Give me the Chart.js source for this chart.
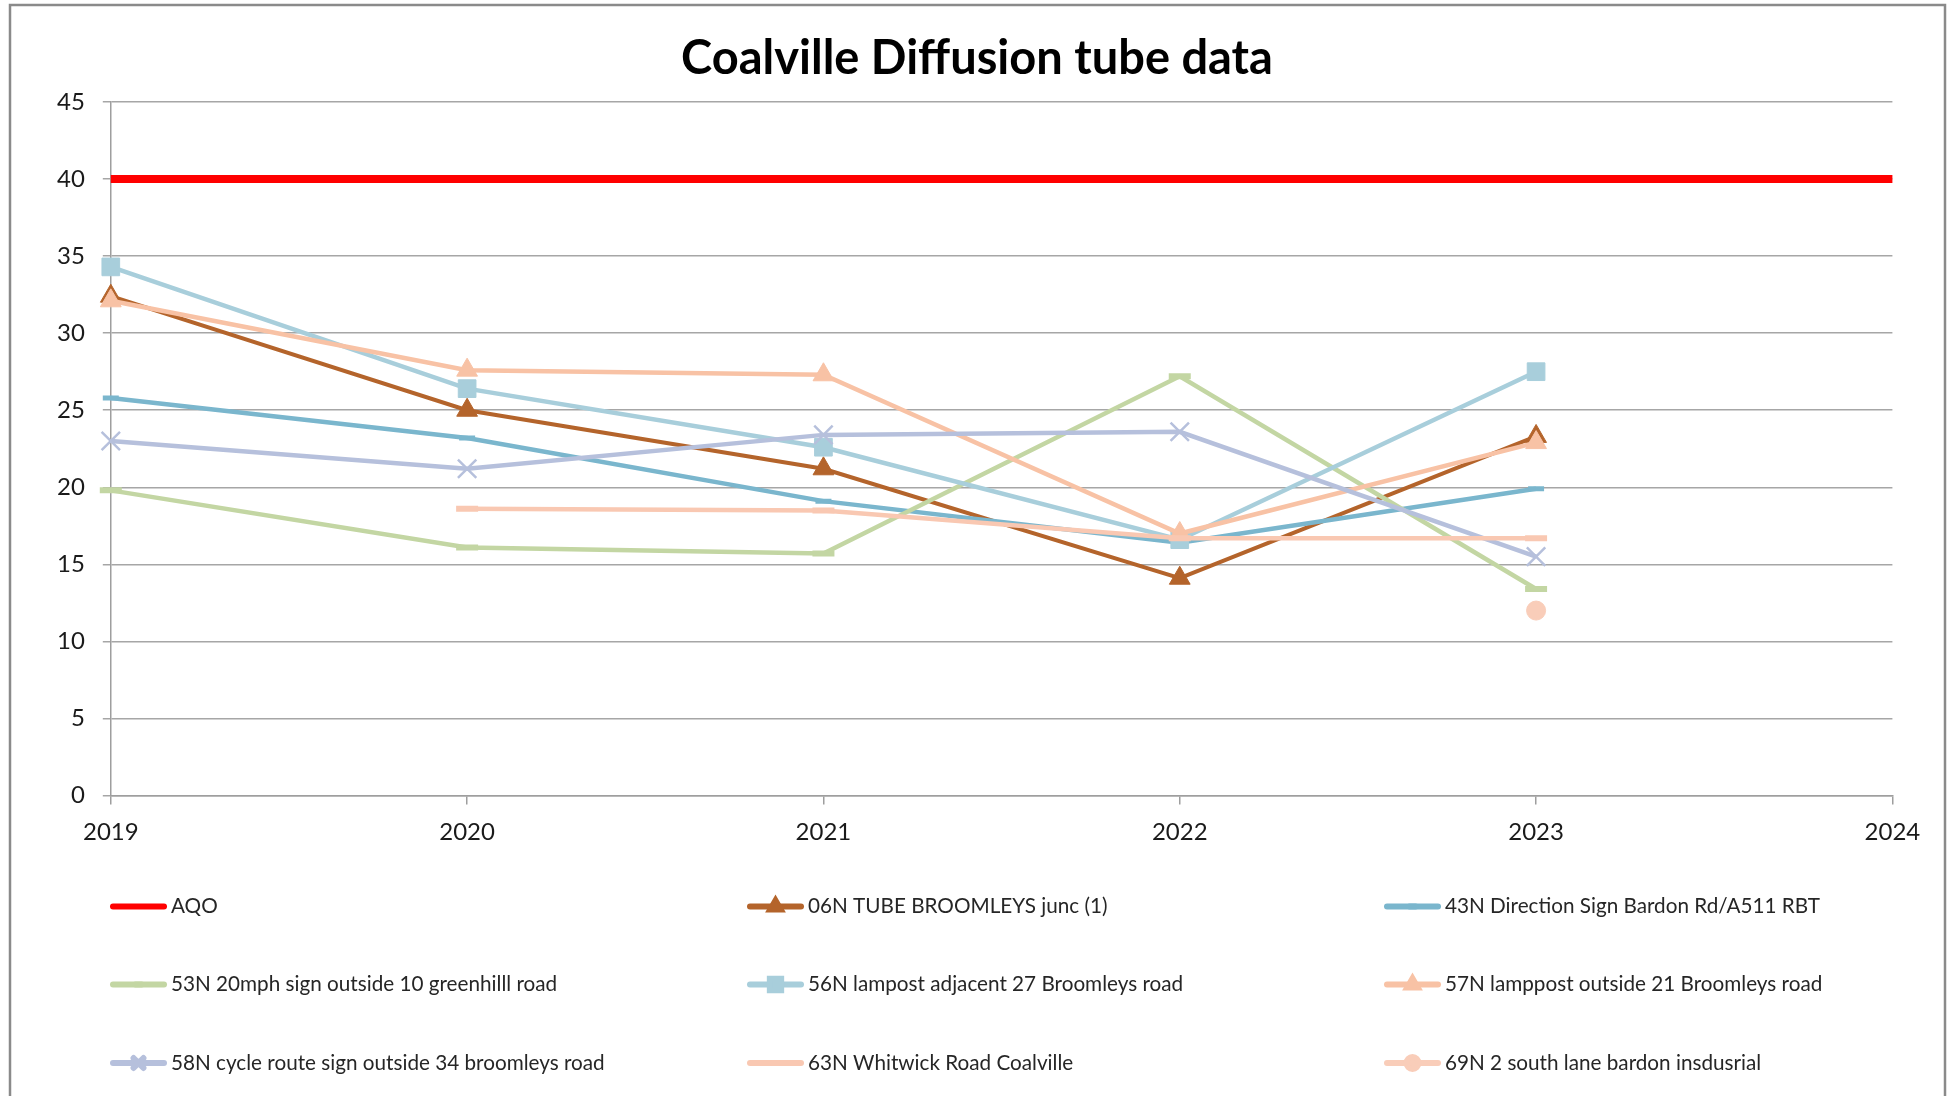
<!DOCTYPE html>
<html>
<head>
<meta charset="utf-8">
<script src="https://cdn.jsdelivr.net/npm/chart.js@4.4.1/dist/chart.umd.min.js"></script>
<style>
  html, body { margin: 0; padding: 0; background: #ffffff; }
  #wrap { position: relative; width: 1952px; height: 1096px; overflow: hidden; }
</style>
</head>
<body>
<div id="wrap"><canvas id="c"></canvas></div>
<script>
// ---- data ----
const chartTitle = 'Coalville Diffusion tube data';
const years = ['2019', '2020', '2021', '2022', '2023', '2024'];
const seriesNames = [
  'AQO',
  '06N TUBE BROOMLEYS junc (1)',
  '43N Direction Sign Bardon Rd/A511 RBT',
  '53N 20mph sign outside 10 greenhilll road',
  '56N lampost adjacent 27 Broomleys road',
  '57N lamppost outside 21 Broomleys road',
  '58N cycle route sign outside 34 broomleys road',
  '63N Whitwick Road Coalville',
  '69N 2 south lane bardon insdusrial'
];
const aqo      = [40, 40, 40, 40, 40, 40];
const s06N     = [32.4, 25.0, 21.2, 14.1, 23.3, null];
const s43N     = [25.8, 23.2, 19.1, 16.4, 19.9, null];
const s53N     = [19.8, 16.1, 15.7, 27.2, 13.4, null];
const s56N     = [34.3, 26.4, 22.6, 16.6, 27.5, null];
const s57N     = [32.1, 27.6, 27.3, 17.0, 22.9, null];
const s58N     = [23.0, 21.2, 23.4, 23.6, 15.5, null];
const s63N     = [null, 18.6, 18.5, 16.7, 16.7, null];
const s69N     = [null, null, null, null, 12.0, null];
const yTicksMin = 0, yTicksMax = 45, yTickStep = 5;

// ---- styles ----
const styles = [
  { color: '#FF0000', width: 8,   point: false,      radius: 0,    pbw: 0 },
  { color: '#B4642B', width: 4,   point: 'triangle', radius: 12,   pbw: 1 },
  { color: '#7AB6CD', width: 4.5, point: 'line',     radius: 8,    pbw: 5 },
  { color: '#C3D6A3', width: 4.5, point: 'line',     radius: 11,   pbw: 6 },
  { color: '#A8CEDB', width: 4.5, point: 'rect',     radius: 12.5, pbw: 1 },
  { color: '#F8C2A5', width: 4.5, point: 'triangle', radius: 12,   pbw: 1 },
  { color: '#B6C0DC', width: 4.5, point: 'crossRot', radius: 13,   pbw: 2.5 },
  { color: '#F9C8B2', width: 4.5, point: 'line',     radius: 11,   pbw: 6 },
  { color: '#F9CDB9', width: 4.5, point: 'circle',   radius: 9.5,  pbw: 1 }
];
const allSeries = [aqo, s06N, s43N, s53N, s56N, s57N, s58N, s63N, s69N];

const datasets = allSeries.map((d, i) => {
  const s = styles[i];
  return {
    label: seriesNames[i],
    data: d,
    borderColor: s.color,
    backgroundColor: s.color,
    borderWidth: s.width,
    pointStyle: s.point || 'circle',
    pointRadius: s.point ? s.radius : 0,
    pointBorderWidth: s.pbw,
    pointBackgroundColor: s.color,
    pointBorderColor: s.color,
    pointHoverRadius: s.point ? s.radius : 0,
    tension: 0,
    spanGaps: false,
    order: 20 - i
  };
});

const frame = {
  id: 'frame',
  beforeDraw(chart) {
    const ctx = chart.ctx;
    ctx.save();
    ctx.fillStyle = '#ffffff';
    ctx.fillRect(0, 0, chart.width, chart.height);
    ctx.strokeStyle = '#8a8a8a';
    ctx.lineWidth = 2.5;
    ctx.strokeRect(10, 5, 1935, 1200);
    ctx.restore();
  },
  afterDraw(chart) {
    const ctx = chart.ctx;
    ctx.save();
    ctx.fillStyle = '#000000';
    ctx.font = 'bold 47px Lato';
    ctx.textAlign = 'center';
    ctx.textBaseline = 'middle';
    ctx.fillText(chartTitle, 977, 59);
    ctx.restore();
  }
};

const gridLegend = {
  id: 'gridLegend',
  afterDraw(chart) {
    const ctx = chart.ctx;
    const colX = [110, 747, 1384];
    const rowY = [906.5, 984.5, 1063];
    const lineLen = 57;
    ctx.save();
    chart.data.datasets.forEach((ds, i) => {
      const s = styles[i];
      const x = colX[i % 3], y = rowY[Math.floor(i / 3)];
      ctx.strokeStyle = s.color;
      ctx.lineWidth = 6;
      ctx.lineCap = 'round';
      ctx.beginPath();
      ctx.moveTo(x + 3, y);
      ctx.lineTo(x + lineLen - 3, y);
      ctx.stroke();
      if (s.point && Chart.helpers && Chart.helpers.drawPoint) {
        ctx.fillStyle = s.color;
        ctx.strokeStyle = s.color;
        let r = 6, bw = 1;
        if (s.point === 'line') { r = 3; bw = 8; }
        if (s.point === 'crossRot') { r = 7; bw = 1.5; }
        if (s.point === 'rect') { r = 8; }
        Chart.helpers.drawPoint(ctx, { pointStyle: s.point, radius: r, borderWidth: bw, rotation: 0 }, x + lineLen / 2, y);
      }
      ctx.fillStyle = '#262626';
      ctx.font = '20.7px Lato';
      ctx.textAlign = 'left';
      ctx.textBaseline = 'middle';
      ctx.fillText(ds.label, x + 61, y);
    });
    ctx.restore();
  }
};

Chart.defaults.font.family = 'Lato';

new Chart(document.getElementById('c'), {
  type: 'line',
  data: { labels: years, datasets: datasets },
  plugins: [frame, gridLegend],
  options: {
    responsive: true,
    maintainAspectRatio: false,
    animation: false,
    events: [],
    layout: { padding: { left: 0, right: 59.6, top: 102, bottom: 240.5 } },
    plugins: {
      legend: { display: false },
      tooltip: { enabled: false },
      title: { display: false }
    },
    scales: {
      x: {
        type: 'category',
        offset: false,
        afterFit(scale) { scale.height = 60; },
        grid: { display: true, drawOnChartArea: false, drawTicks: true, tickLength: 9, color: '#9e9e9e', lineWidth: 1.5 },
        border: { display: true, color: '#9e9e9e', width: 1.5 },
        ticks: { color: '#1a1a1a', font: { size: 24 }, padding: 13, maxRotation: 0, autoSkip: false }
      },
      y: {
        min: yTicksMin,
        max: yTicksMax,
        afterFit(scale) { scale.width = 110.8; },
        grid: { display: true, drawOnChartArea: true, drawTicks: true, tickLength: 8, color: '#a6a6a6', lineWidth: 1.5 },
        border: { display: true, color: '#9e9e9e', width: 1.5 },
        ticks: { stepSize: yTickStep, color: '#1a1a1a', font: { size: 24 }, padding: 18 }
      }
    }
  }
});
</script>
</body>
</html>
